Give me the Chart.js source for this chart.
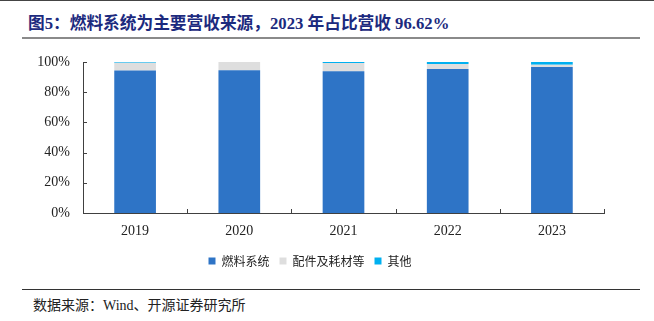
<!DOCTYPE html>
<html>
<head>
<meta charset="utf-8">
<script src="https://cdn.jsdelivr.net/npm/chart.js@4/dist/chart.umd.min.js"></script>
<style>
  body { margin: 0; width: 654px; height: 321px; background: #fff; position: relative; overflow: hidden; }
  #topLine { position: absolute; left: 0; top: 0; width: 654px; height: 1px; background: #444; }
  #title { position: absolute; left: 28px; top: 10px; font: bold 16.7px "Liberation Serif", "Noto Sans CJK SC", serif; color: #1c2a7e; white-space: nowrap; }
  #titleLine { position: absolute; left: 22px; top: 37px; width: 618px; height: 2px; background: #8a8a8a; }
  #chartWrap { position: absolute; left: 0; top: 0; }
  #bottomLine { position: absolute; left: 22px; top: 289px; width: 618px; height: 1px; background: #333; }
  #source { position: absolute; left: 33px; top: 294px; font: 14px "Liberation Serif", "Noto Sans CJK SC", serif; color: #222; white-space: nowrap; }
</style>
</head>
<body>
<div id="topLine"></div>
<div id="title">图5：燃料系统为主要营收来源，2023 年占比营收 96.62%</div>
<div id="titleLine"></div>
<div id="chartWrap"><canvas id="revenueChart" width="654" height="280"></canvas></div>
<div id="bottomLine"></div>
<div id="source">数据来源：Wind、开源证券研究所</div>
<script>
// Data (share of revenue, %)
const years = ['2019', '2020', '2021', '2022', '2023'];
const fuelSystem = [94.4, 94.5, 93.8, 95.4, 96.62];
const partsConsumables = [5.1, 5.5, 5.5, 3.3, 1.6];
const others = [0.5, 0.0, 0.7, 1.3, 1.78];
const yTicks = [0, 20, 40, 60, 80, 100];

const axisColor = '#404040';

// Draw the short inward tick marks on both axes
const innerTicks = {
    id: 'innerTicks',
    afterDraw(chart) {
        const ctx = chart.ctx;
        const x = chart.scales.x;
        const y = chart.scales.y;
        const area = chart.chartArea;
        ctx.save();
        ctx.strokeStyle = axisColor;
        ctx.lineWidth = 1;
        ctx.beginPath();
        yTicks.forEach(v => {
            const py = Math.round(y.getPixelForValue(v)) + 0.5;
            ctx.moveTo(area.left, py);
            ctx.lineTo(area.left + 4, py);
        });
        const step = (x.right - x.left) / years.length;
        for (let i = 0; i <= years.length; i++) {
            const px = Math.round(x.left + step * i) + 0.5;
            ctx.moveTo(px, area.bottom);
            ctx.lineTo(px, area.bottom - 4);
        }
        ctx.stroke();
        ctx.restore();
    }
};

const ctx = document.getElementById('revenueChart').getContext('2d');
new Chart(ctx, {
    type: 'bar',
    data: {
        labels: years,
        datasets: [
            { label: '燃料系统', data: fuelSystem, backgroundColor: '#2e74c6' },
            { label: '配件及耗材等', data: partsConsumables, backgroundColor: '#dedede' },
            { label: '其他', data: others, backgroundColor: '#00b0f0' }
        ]
    },
    options: {
        responsive: false,
        animation: false,
        layout: { padding: { left: 16, right: 50, top: 62, bottom: 3 } },
        datasets: {
            bar: { barPercentage: 0.4, categoryPercentage: 1.0, borderWidth: 0 }
        },
        scales: {
            x: {
                stacked: true,
                offset: true,
                grid: { display: false, drawTicks: false },
                border: { display: true, color: axisColor, width: 1 },
                ticks: { padding: 10, color: '#222', font: { family: 'Liberation Serif', size: 14 } },
                afterFit(scale) { scale.height = 32; }
            },
            y: {
                stacked: true,
                min: 0,
                max: 100,
                grid: { display: false, drawTicks: false },
                border: { display: true, color: axisColor, width: 1 },
                ticks: {
                    stepSize: 20,
                    padding: 13,
                    color: '#222',
                    font: { family: 'Liberation Serif', size: 14 },
                    callback: v => v + '%'
                },
                afterFit(scale) { scale.width = 67; }
            }
        },
        plugins: {
            legend: {
                position: 'bottom',
                labels: {
                    boxWidth: 7,
                    boxHeight: 7,
                    padding: 10,
                    color: '#222',
                    font: { family: 'Noto Sans CJK SC', size: 12 }
                }
            },
            tooltip: { enabled: false }
        }
    },
    plugins: [innerTicks]
});
</script>
</body>
</html>
